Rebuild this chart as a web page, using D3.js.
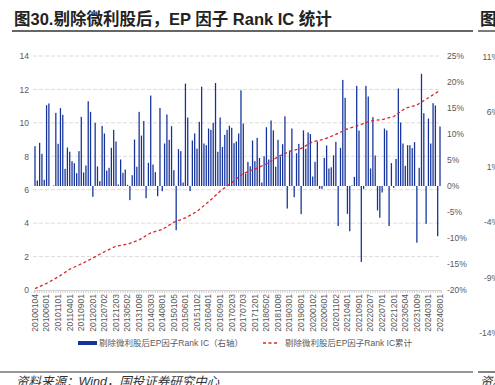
<!DOCTYPE html>
<html>
<head>
<meta charset="utf-8">
<script src="https://cdn.jsdelivr.net/npm/d3@7"></script>
<style>
body{margin:0;background:#fff;}
svg{display:block;font-family:"Liberation Sans","Noto Sans CJK SC",sans-serif;}
</style>
</head>
<body>
<div id="chart"></div>
<script>
// x tick labels (every 5th month)
const tickLabels = ["20100104","20100601","20101101","20110401","20110901","20120201","20120702","20121203",
  "20130502","20131008","20140303","20140801","20150105","20150601","20151102","20160401","20160901",
  "20170203","20170703","20171201","20180502","20181008","20190301","20190801","20200102","20200601",
  "20201102","20210401","20210901","20220207","20220701","20221201","20230504","20231009","20240301","20240801"];

// monthly Rank IC, % (right axis)
const rankIC = [
  7.66,1.06,8.30,6.19,1.19,15.54,15.87,0,0.1,14.07,
  8.11,14.97,13.69,3.3,7.4,6.6,4.78,4.39,2.47,6.7,
  13.3,2.6,3.94,16.3,14.26,-2.08,12.15,3.75,0.93,11.57,
  10.1,2.98,3.5,7.34,10.8,8.56,0.29,5.1,2.53,3.17,
  0.22,-2.72,2.08,8.94,
  3.7,14.26,9.7,12.5,-2.34,4.46,17.4,4.13,2.66,-1.96,
  15.0,-1.0,8.17,13.75,8.88,11.5,3.04,-8.5,7.08,6.7,
  0.67,19.7,13.17,-0.99,8.75,10.1,7.2,12.34,19.1,8.17,
  7.85,11.06,10.8,12.15,19.8,6.57,13.17,7.5,9.84,10.8,
  11.6,11.2,8.24,8.56,10.1,
  18.4,12.0,2.4,4.65,3.8,8.75,4.78,9.26,5.4,0.67,
  5.7,11.3,5.1,12.6,10.7,3.7,8.88,5.67,8.04,13.4,
  -4.33,6.83,11.06,-2.15,6.3,8.1,-5.4,10.7,7.15,10.3,
  10.0,1.83,4.65,8.56,-0.54,-0.54,5.4,7.8,3.37,3.6,
  5.9,8.5,-7.7,7.34,
  20.4,16.96,-5.35,-8.7,0.1,1.76,19.26,10.67,-14.6,-0.54,
  19.26,17.2,3.37,13.24,5.86,-4.7,-6.1,-1.25,11.06,10.7,
  -7.7,4.4,-0.35,5.2,18.75,12.2,8.17,3.88,7.85,7.85,
  7.28,8.43,-10.9,3.5,21.57,14.0,-7.27,12.98,8.17,15.93,
  15.48,-9.65,11.44
];

// cumulative Rank IC at each labelled month (left axis)
const cumIC = [0.08,0.40,0.78,1.24,1.56,1.91,2.29,2.62,2.74,3.0,3.42,3.62,4.06,4.31,4.70,5.28,5.91,6.42,
  6.98,7.23,7.55,7.97,8.30,8.47,8.87,9.02,9.31,9.64,9.86,10.12,10.20,10.38,10.87,11.07,11.50,11.95];

const leftTicks = [0,2,4,6,8,10,12,14];
const rightTicks = [-20,-15,-10,-5,0,5,10,15,20,25];
const neighbourTicks = ["11%","6%","1%","-4%","-9%","-14%"];

const w = 495, h = 385;
const blue = "#16339c", red = "#d9262b", grey = "#595959";

const svg = d3.select("#chart").append("svg").attr("width", w).attr("height", h);

// title + rule
svg.append("text").attr("x", 14).attr("y", 25)
  .style("font-size", "16.5px").style("font-weight", "bold").attr("fill", "#222")
  .text("图30.剔除微利股后，EP 因子 Rank IC 统计");
svg.append("text").attr("x", 480).attr("y", 25)
  .style("font-size", "16.5px").style("font-weight", "bold").attr("fill", "#222")
  .text("图31");
svg.append("line").attr("x1", 12).attr("x2", 473).attr("y1", 31).attr("y2", 31)
  .attr("stroke", "#333").attr("stroke-width", 1.3);
svg.append("line").attr("x1", 478).attr("x2", 495).attr("y1", 31).attr("y2", 31)
  .attr("stroke", "#333").attr("stroke-width", 1.3);

// scales
const x = d3.scaleBand().domain(d3.range(rankIC.length)).range([33.84, 441.16])
  .paddingInner(0.45).paddingOuter(0.225);
const yL = d3.scaleLinear().domain([0, 14]).range([290, 56]);
const yR = d3.scaleLinear().domain([-20, 25]).range([290, 56]);
const cx = i => x(i) + x.bandwidth() / 2;

// gridlines
svg.append("g").selectAll("line").data(leftTicks.slice(1)).enter().append("line")
  .attr("x1", 33).attr("x2", 441)
  .attr("y1", d => yL(d)).attr("y2", d => yL(d))
  .attr("stroke", "#dcdcdc").attr("stroke-dasharray", "4,2");

// left axis
svg.append("g").attr("transform", "translate(29,0)")
  .call(d3.axisLeft(yL).tickValues(leftTicks).tickSize(0).tickPadding(0))
  .call(g => g.select(".domain").remove())
  .call(g => g.selectAll("text").attr("fill", grey).style("font-size", "8.5px")
    .style("font-family", "'Liberation Sans',sans-serif"));

// right axis
svg.append("g").attr("transform", "translate(447,0)")
  .call(d3.axisRight(yR).tickValues(rightTicks).tickSize(0).tickPadding(0).tickFormat(d => d + "%"))
  .call(g => g.select(".domain").remove())
  .call(g => g.selectAll("text").attr("fill", grey).style("font-size", "8.5px")
    .style("font-family", "'Liberation Sans',sans-serif"));

// bars
svg.append("g").selectAll("rect").data(rankIC).enter().append("rect")
  .attr("x", (d, i) => x(i))
  .attr("width", x.bandwidth())
  .attr("y", d => Math.min(yR(d), yR(0)))
  .attr("height", d => Math.abs(yR(d) - yR(0)))
  .attr("fill", blue);

// category axis
svg.append("g").attr("transform", "translate(0,290)")
  .call(d3.axisBottom(x).tickValues(d3.range(rankIC.length)).tickSize(3).tickFormat(""))
  .call(g => g.selectAll("line").attr("stroke", "#d0d0d0"))
  .call(g => g.select(".domain").attr("stroke", "#d0d0d0"));

svg.append("g").selectAll("text").data(tickLabels).enter().append("text")
  .attr("transform", (d, i) => "translate(" + cx(i * 5) + ",294) rotate(-90)")
  .attr("text-anchor", "end").attr("dy", "0.33em")
  .attr("fill", grey).style("font-size", "8.5px")
  .text(d => d);

// cumulative line
const line = d3.line().x((d, i) => cx(i * 5)).y(d => yL(d));
svg.append("path").datum(cumIC).attr("d", line)
  .attr("fill", "none").attr("stroke", red).attr("stroke-width", 1.3)
  .attr("stroke-dasharray", "3,2.5");

// legend
const lg = svg.append("g").style("font-size", "8.5px").attr("fill", grey);
lg.append("rect").attr("x", 78).attr("y", 341).attr("width", 19).attr("height", 4).attr("fill", blue);
lg.append("text").attr("x", 99).attr("y", 343).attr("dy", "0.35em").text("剔除微利股后EP因子Rank IC（右轴）");
lg.append("line").attr("x1", 263).attr("x2", 278).attr("y1", 343).attr("y2", 343)
  .attr("stroke", red).attr("stroke-width", 1.5).attr("stroke-dasharray", "3,2.5");
lg.append("text").attr("x", 285).attr("y", 343).attr("dy", "0.35em").text("剔除微利股后EP因子Rank IC累计");

// neighbouring chart fragment on the right
svg.append("g").selectAll("text").data(neighbourTicks).enter().append("text")
  .attr("x", 499).attr("y", (d, i) => 57 + i * 55.2).attr("dy", "0.33em")
  .attr("text-anchor", "end").attr("fill", grey).style("font-size", "8.5px")
  .text(d => d);

// source
svg.append("line").attr("x1", 0).attr("x2", 473).attr("y1", 372).attr("y2", 372)
  .attr("stroke", "#333").attr("stroke-width", 1.2);
svg.append("line").attr("x1", 478).attr("x2", 495).attr("y1", 372).attr("y2", 372)
  .attr("stroke", "#333").attr("stroke-width", 1.2);
svg.append("text").attr("x", 16).attr("y", 386)
  .style("font-size", "12.5px").style("font-style", "italic").attr("fill", "#333")
  .text("资料来源：Wind，国投证券研究中心");
svg.append("text").attr("x", 480).attr("y", 386)
  .style("font-size", "12.5px").style("font-style", "italic").attr("fill", "#333")
  .text("资料来源");
</script>
</body>
</html>
